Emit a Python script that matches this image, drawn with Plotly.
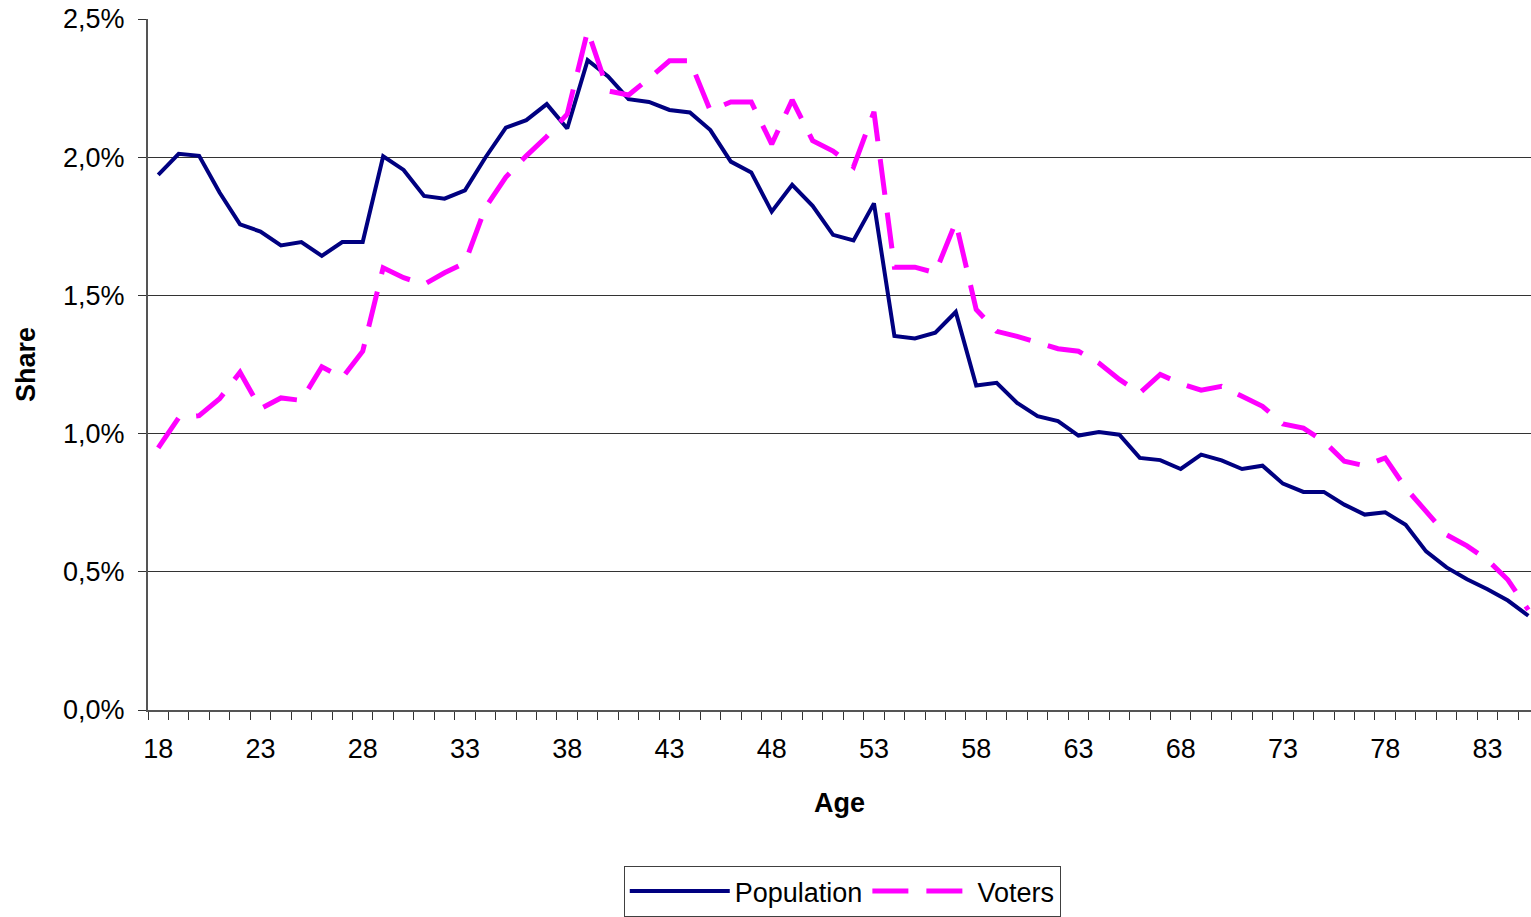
import plotly.graph_objects as go

ages = list(range(18, 86))
population = [
    1.936, 2.012, 2.005, 1.872, 1.757, 1.731, 1.681, 1.693, 1.643, 1.693,
    1.693, 2.003, 1.954, 1.860, 1.850, 1.880, 1.999, 2.107, 2.134, 2.192,
    2.104, 2.351, 2.292, 2.210, 2.200, 2.171, 2.162, 2.098, 1.984, 1.945,
    1.803, 1.900, 1.824, 1.719, 1.699, 1.833, 1.353, 1.344, 1.365, 1.440,
    1.174, 1.184, 1.111, 1.063, 1.045, 0.993, 1.006, 0.996, 0.912, 0.904,
    0.872, 0.924, 0.903, 0.872, 0.884, 0.819, 0.789, 0.789, 0.743, 0.707,
    0.715, 0.670, 0.574, 0.516, 0.473, 0.437, 0.396, 0.341,
]
voters = [
    0.948, 1.057, 1.065, 1.126, 1.222, 1.090, 1.129, 1.120, 1.242, 1.202,
    1.298, 1.600, 1.564, 1.540, 1.582, 1.618, 1.818, 1.928, 2.005, 2.075,
    2.156, 2.458, 2.240, 2.225, 2.285, 2.349, 2.349, 2.168, 2.200, 2.200,
    2.047, 2.207, 2.060, 2.022, 1.965, 2.164, 1.602, 1.602, 1.582, 1.765,
    1.449, 1.370, 1.352, 1.328, 1.307, 1.298, 1.255, 1.196, 1.147, 1.214,
    1.181, 1.157, 1.171, 1.135, 1.099, 1.035, 1.020, 0.972, 0.900, 0.884,
    0.912, 0.803, 0.718, 0.634, 0.594, 0.543, 0.471, 0.362,
]
x_tick_labels = [18, 23, 28, 33, 38, 43, 48, 53, 58, 63, 68, 73, 78, 83]
y_ticks = [0, 0.5, 1.0, 1.5, 2.0, 2.5]
y_tick_text = ["0,0%", "0,5%", "1,0%", "1,5%", "2,0%", "2,5%"]

FONT = "Liberation Sans, Arial, sans-serif"

fig = go.Figure()
fig.add_trace(go.Scatter(
    x=ages, y=population, name="Population", mode="lines",
    line=dict(color="#000080", width=4),
))
fig.add_trace(go.Scatter(
    x=ages, y=voters, name="Voters", mode="lines",
    line=dict(color="#FF00FF", width=5, dash="36px,18px"),
))

fig.update_layout(
    width=1531, height=917, autosize=False,
    margin=dict(l=148, r=0, t=19, b=207),
    paper_bgcolor="white", plot_bgcolor="white",
    font=dict(family=FONT, size=27, color="black"),
    showlegend=True,
    legend=dict(
        orientation="h", x=0.502, xanchor="center", y=-0.226, yanchor="top",
        bordercolor="#404040", borderwidth=1, bgcolor="white",
        font=dict(size=27), itemwidth=100,
    ),
)

fig.update_xaxes(
    range=[17.5, 85.13],
    tickmode="array", tickvals=x_tick_labels,
    ticks="outside", ticklen=0, ticklabelstandoff=14,
    showgrid=False, zeroline=False,
    showline=True, linecolor="#555555", linewidth=2,
    minor=dict(tickmode="linear", tick0=17.5, dtick=1, ticks="outside",
               ticklen=8, tickcolor="#333333", tickwidth=1, showgrid=False),
    title=dict(text="<b>Age</b>", standoff=30, font=dict(size=27)),
    tickfont=dict(size=27),
)
fig.update_yaxes(
    range=[0, 2.5],
    tickmode="array", tickvals=y_ticks, ticktext=y_tick_text,
    ticks="outside", ticklen=8, tickcolor="#333333", tickwidth=1,
    ticklabelstandoff=8,
    showgrid=True, gridcolor="#333333", gridwidth=1,
    zeroline=False,
    showline=True, linecolor="#555555", linewidth=2,
    title=dict(text="<b>Share</b>", standoff=20, font=dict(size=27)),
    tickfont=dict(size=27),
)

fig.write_html("out.html", config={"displayModeBar": False},
               post_script="document.body.style.margin='0';")
